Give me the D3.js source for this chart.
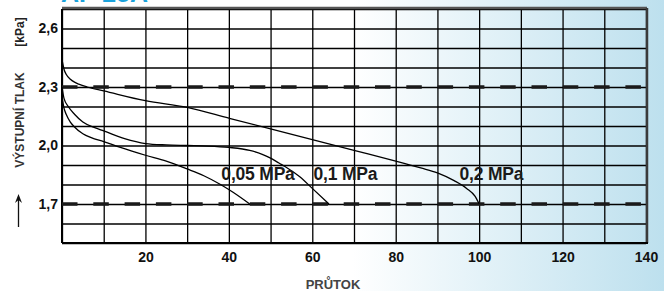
<!DOCTYPE html>
<html>
<head>
<meta charset="utf-8">
<script src="https://cdn.jsdelivr.net/npm/d3@7"></script>
<style>
  html, body { margin: 0; padding: 0; background: #fff; }
  svg { display: block; font-family: "Liberation Sans", Arial, sans-serif; }
</style>
</head>
<body>
<svg id="chart" width="664" height="291"></svg>
<script>
// flow values (x) and outlet pressure (y, kPa)
const seriesNames = ["0,05 MPa", "0,1 MPa", "0,2 MPa"];
const flow005 = [0, 0.5, 1, 2, 3, 5, 7, 10, 14, 20, 25, 30, 34, 38, 41, 45];
const pres005 = [2.25, 2.19, 2.16, 2.12, 2.095, 2.06, 2.04, 2.02, 1.99, 1.95, 1.92, 1.88, 1.845, 1.80, 1.76, 1.70];
const flow01 = [0, 0.5, 1.5, 3, 5, 8, 10, 15, 20, 25, 30, 35, 40, 45, 48, 50, 52, 54, 57, 60, 64];
const pres01 = [2.30, 2.24, 2.20, 2.16, 2.12, 2.09, 2.075, 2.035, 2.01, 2.003, 2.0, 1.997, 1.99, 1.975, 1.955, 1.935, 1.91, 1.885, 1.84, 1.78, 1.70];
const flow02 = [0, 0.5, 1, 2, 3, 4, 6, 10, 20, 30, 40, 50, 60, 70, 80, 86, 90, 94, 97, 99, 100];
const pres02 = [2.44, 2.39, 2.365, 2.34, 2.325, 2.315, 2.30, 2.28, 2.23, 2.195, 2.14, 2.085, 2.03, 1.975, 1.92, 1.885, 1.86, 1.82, 1.78, 1.74, 1.70];

// label anchors (flow, pressure) for each series name
const labelFlow = [38.2, 60.3, 95.3];
const labelPres = [1.823, 1.823, 1.823];

const xTickLabels = [20, 40, 60, 80, 100, 120, 140];
const yTickLabels = [1.7, 2.0, 2.3, 2.6];
const xGrid = d3.range(0, 141, 10);
const yGrid = d3.range(15, 28).map(v => v / 10);
const limitLines = [2.3, 1.7];

const svg = d3.select("#chart");
const margin = { top: 9, right: 18, bottom: 48, left: 62 };
const width = +svg.attr("width") - margin.left - margin.right;
const height = +svg.attr("height") - margin.top - margin.bottom;

// background fade to light blue on the right
const defs = svg.append("defs");
const grad = defs.append("linearGradient").attr("id", "bg")
    .attr("x1", "0%").attr("x2", "100%").attr("y1", "0%").attr("y2", "0%");
grad.append("stop").attr("offset", "0%").attr("stop-color", "#ffffff");
grad.append("stop").attr("offset", "53%").attr("stop-color", "#ffffff");
grad.append("stop").attr("offset", "100%").attr("stop-color", "#bde0ee");
svg.append("rect").attr("width", 664).attr("height", 291).attr("fill", "url(#bg)");

// product title, mostly above the visible area
svg.append("text")
    .attr("x", 61).attr("y", 2)
    .attr("fill", "#1ba3dc")
    .attr("font-size", 25).attr("font-weight", "bold")
    .text("AP 25A");

const chart = svg.append("g")
    .attr("transform", `translate(${margin.left}, ${margin.top})`);

const x = d3.scaleLinear().domain([0, 140]).range([0, width]);
const y = d3.scaleLinear().domain([1.5, 2.7]).range([height, 0]);

// grid
chart.append("g")
    .call(d3.axisBottom(x).tickValues(xGrid).tickSize(height).tickFormat(""))
    .call(g => g.select(".domain").remove())
    .selectAll("line").attr("stroke", "#000").attr("stroke-width", 1.3);

chart.append("g")
    .call(d3.axisLeft(y).tickValues(yGrid).tickSize(-width).tickFormat(""))
    .call(g => g.select(".domain").remove())
    .selectAll("line").attr("stroke", "#000").attr("stroke-width", 1.3);

// frame: shadowed top/right edge, black left/bottom
chart.append("line").attr("x1", 0).attr("x2", width + 1).attr("y1", -1).attr("y2", -1)
    .attr("stroke", "#555").attr("stroke-width", 2.5);
chart.append("line").attr("x1", width + 1).attr("x2", width + 1).attr("y1", -1).attr("y2", height)
    .attr("stroke", "#3a3a3a").attr("stroke-width", 2.5);
chart.append("line").attr("x1", 0).attr("x2", 0).attr("y1", 0).attr("y2", height)
    .attr("stroke", "#000").attr("stroke-width", 2);
chart.append("line").attr("x1", 0).attr("x2", width + 2).attr("y1", height).attr("y2", height)
    .attr("stroke", "#000").attr("stroke-width", 2);

// dashed limit lines
chart.append("g")
    .selectAll("line")
    .data(limitLines)
    .join("line")
    .attr("x1", x(0)).attr("x2", x(140))
    .attr("y1", d => y(d)).attr("y2", d => y(d))
    .attr("stroke", "#1a1a1a")
    .attr("stroke-width", 3.6)
    .attr("stroke-dasharray", "15.5,15.8");

// curves
const series = [
    { flow: flow005, pres: pres005 },
    { flow: flow01, pres: pres01 },
    { flow: flow02, pres: pres02 }
];
const line = d3.line()
    .x(d => x(d[0]))
    .y(d => y(d[1]))
    .curve(d3.curveMonotoneX);

chart.append("g")
    .selectAll("path")
    .data(series)
    .join("path")
    .attr("d", s => line(s.flow.map((f, i) => [f, s.pres[i]])))
    .attr("fill", "none")
    .attr("stroke", "#000")
    .attr("stroke-width", 1.3);

// series labels
chart.append("g")
    .selectAll("text")
    .data(seriesNames)
    .join("text")
    .attr("x", (d, i) => x(labelFlow[i]))
    .attr("y", (d, i) => y(labelPres[i]))
    .attr("font-size", 17.5)
    .attr("font-weight", "bold")
    .attr("letter-spacing", -0.2)
    .attr("fill", "#1a1a1a")
    .text(d => d);

// tick labels
chart.append("g")
    .attr("transform", `translate(0, ${height})`)
    .call(d3.axisBottom(x).tickValues(xTickLabels).tickSize(0).tickPadding(9))
    .call(g => g.select(".domain").remove())
    .selectAll("text")
    .attr("font-family", "Liberation Sans, Arial, sans-serif")
    .attr("font-size", 14).attr("font-weight", "bold").attr("fill", "#111");

chart.append("g")
    .call(d3.axisLeft(y).tickValues(yTickLabels).tickSize(0).tickPadding(4)
        .tickFormat(d => d3.format(".1f")(d).replace(".", ",")))
    .call(g => g.select(".domain").remove())
    .selectAll("text")
    .attr("font-family", "Liberation Sans, Arial, sans-serif")
    .attr("font-size", 14).attr("font-weight", "bold").attr("fill", "#111");

// axis titles
svg.append("text")
    .attr("x", 333).attr("y", 289)
    .attr("text-anchor", "middle")
    .attr("font-size", 13).attr("font-weight", "bold").attr("fill", "#444")
    .text("PRŮTOK");

svg.append("text")
    .attr("transform", "translate(24, 120) rotate(-90)")
    .attr("text-anchor", "middle")
    .attr("font-size", 12).attr("font-weight", "bold").attr("fill", "#333")
    .text("VÝSTUPNÍ TLAK");

svg.append("text")
    .attr("transform", "translate(24, 32) rotate(-90)")
    .attr("text-anchor", "middle")
    .attr("font-size", 12).attr("font-weight", "bold").attr("fill", "#222")
    .text("[kPa]");

// upward arrow next to the y title
svg.append("line")
    .attr("x1", 18.5).attr("x2", 18.5).attr("y1", 227).attr("y2", 198)
    .attr("stroke", "#111").attr("stroke-width", 1.3);
svg.append("path")
    .attr("d", "M18.5,194 L15,203 L18.5,200 L22,203 Z")
    .attr("fill", "#111");
</script>
</body>
</html>
